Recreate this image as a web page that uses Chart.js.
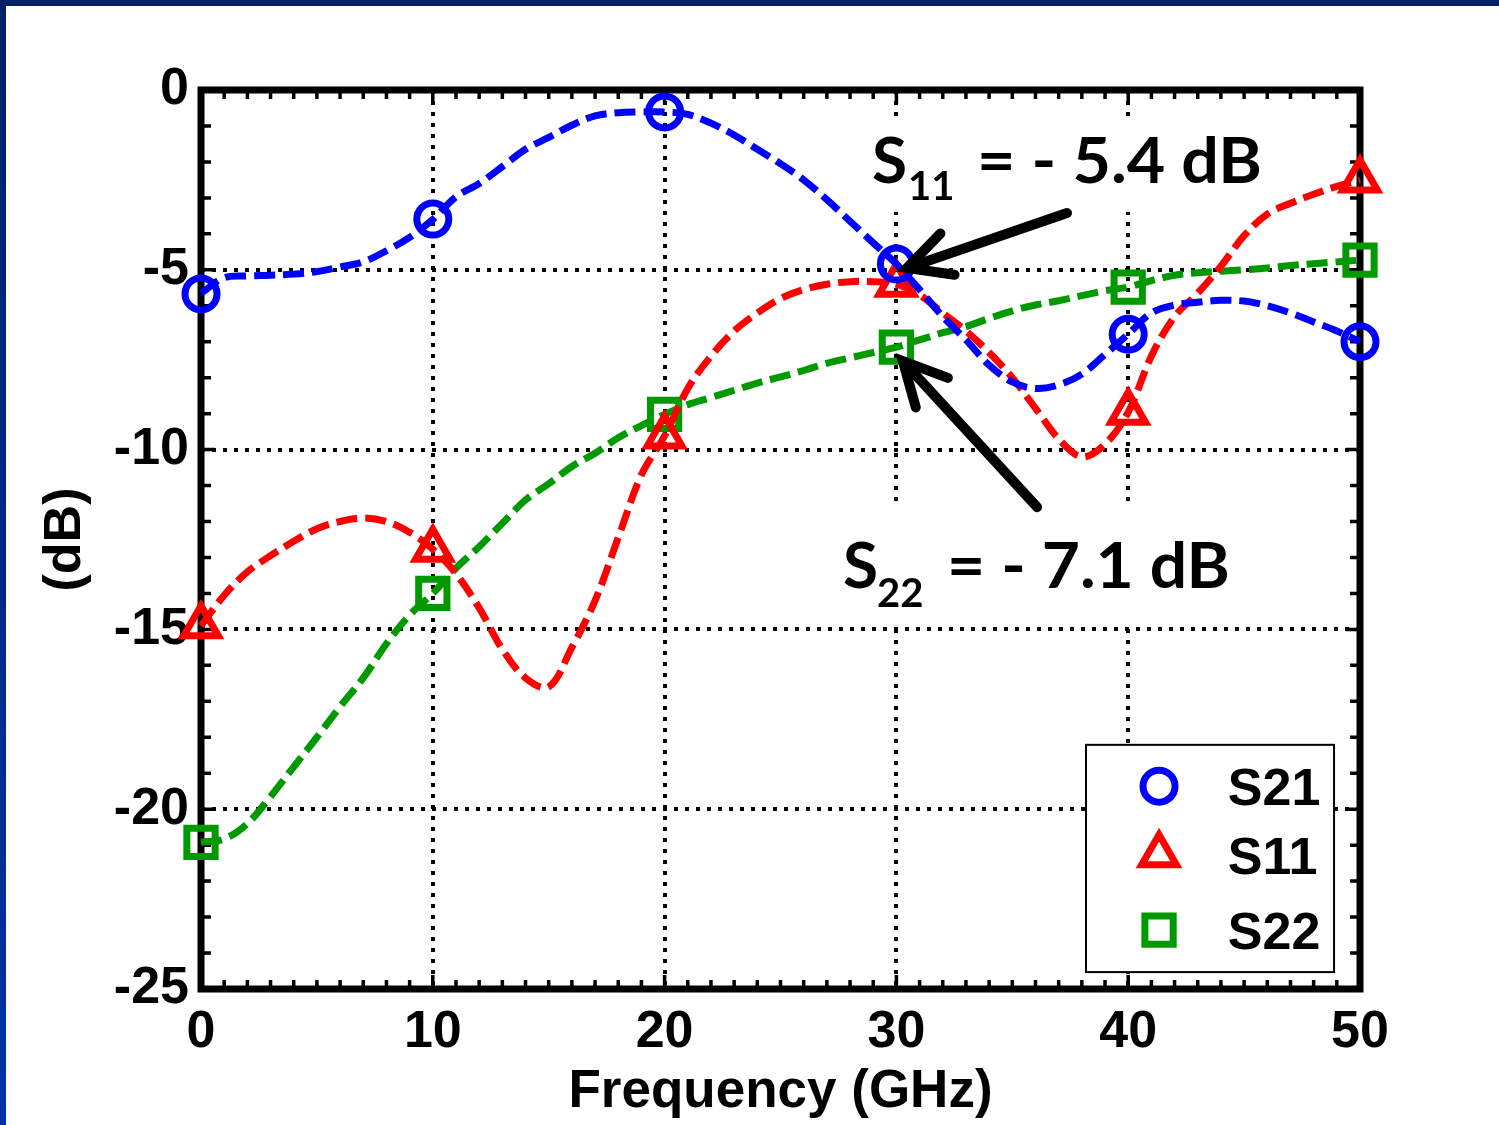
<!DOCTYPE html>
<html>
<head>
<meta charset="utf-8">
<script src="https://cdn.jsdelivr.net/npm/chart.js@4.4.0/dist/chart.umd.min.js"></script>
<style>
  html, body { margin: 0; padding: 0; background: #fff; }
  #wrap { position: relative; width: 1499px; height: 1125px; overflow: hidden; background: #fff; }
  #topBar { position: absolute; left: 0; top: 0; width: 1499px; height: 6px; background: #001f6b; }
  #leftBar { position: absolute; left: 0; top: 0; width: 6px; height: 1125px; background: linear-gradient(#001f6b, #0033a8); }
  canvas { position: absolute; left: 0; top: 0; }
</style>
</head>
<body>
<div id="wrap">
  <div id="topBar"></div>
  <div id="leftBar"></div>
  <canvas id="chart" width="1499" height="1125"></canvas>
</div>
<script>
// frequency grid of the measured curves (GHz)
const freq = [
  0, 1, 2, 3, 4, 5, 6, 7, 8, 9,
  10, 11, 12, 13, 14, 15, 16, 17, 18, 19,
  20, 21, 22, 23, 24, 25, 26, 27, 28, 29,
  30, 31, 32, 33, 34, 35, 36, 37, 38, 39,
  40, 41, 42, 43, 44, 45, 46, 47, 48, 49,
  50
];

// curves (dB)
const s21 = [
  -5.65, -5.22, -5.17, -5.15, -5.12, -5.05, -4.92, -4.78, -4.47, -4.1,
  -3.6, -2.97, -2.6, -2.13, -1.65, -1.32, -0.98, -0.72, -0.63, -0.61,
  -0.61, -0.68, -0.92, -1.25, -1.65, -2.05, -2.5, -3.05, -3.65, -4.25,
  -4.84, -5.55, -6.3, -6.95, -7.65, -8.12, -8.3, -8.2, -7.9, -7.35,
  -6.79, -6.2, -5.98, -5.9, -5.85, -5.87, -6.0, -6.2, -6.45, -6.7,
  -7.0
];
const s11 = [
  -14.9, -14.05, -13.4, -12.95, -12.55, -12.2, -12.0, -11.9, -12.0, -12.3,
  -12.77, -13.45, -14.4, -15.55, -16.35, -16.6, -15.5, -14.2, -12.45, -10.7,
  -9.62, -8.3, -7.4, -6.7, -6.2, -5.8, -5.55, -5.4, -5.33, -5.33,
  -5.4, -5.7, -6.2, -6.7, -7.3, -8.0, -8.85, -9.7, -10.2, -9.85,
  -8.96, -7.4, -6.3, -5.65, -4.9, -4.05, -3.45, -3.15, -2.9, -2.68,
  -2.5
];
const s22 = [
  -20.92, -20.83, -20.4, -19.65, -18.82, -18.0, -17.15, -16.35, -15.4, -14.6,
  -14.0, -13.3, -12.7, -12.05, -11.4, -10.95, -10.47, -10.1, -9.67, -9.33,
  -9.02, -8.75, -8.55, -8.35, -8.15, -7.98, -7.8, -7.6, -7.45, -7.3,
  -7.15, -6.95, -6.75, -6.58, -6.35, -6.14, -5.98, -5.86, -5.72, -5.58,
  -5.48, -5.3, -5.15, -5.08, -5.04, -5.0, -4.95, -4.88, -4.83, -4.78,
  -4.73
];

// marker points every 10 GHz
const markFreq = [0, 10, 20, 30, 40, 50];
const s21Marks = [-5.67, -3.59, -0.61, -4.84, -6.79, -7.0];
const s11Marks = [-14.9, -12.77, -9.62, -5.4, -8.96, -2.5];
const s22Marks = [-20.92, -14.0, -9.02, -7.15, -5.48, -4.73];

const seriesNames = ['S21', 'S11', 'S22'];
const xTicks = [0, 10, 20, 30, 40, 50];
const yTicks = [0, -5, -10, -15, -20, -25];

const tickFont = { family: "'Liberation Sans', Arial, sans-serif", size: 52, weight: 'bold' };
const noteFont = "Lato, 'Open Sans', sans-serif";

function pts(xs, ys) {
  return xs.map((x, i) => ({ x: x, y: ys[i] }));
}

const styles = [
  { color: '#0000ff', pointStyle: 'circle', radius: 16 },
  { color: '#ff0000', pointStyle: 'triangle', radius: 20 },
  { color: '#009900', pointStyle: 'rect', radius: 20 }
];

const curveData = [s21, s11, s22];
const markData = [s21Marks, s11Marks, s22Marks];

const datasets = [];
seriesNames.forEach((name, i) => {
  datasets.push({
    label: name + ' markers',
    data: pts(markFreq, markData[i]),
    showLine: false,
    pointStyle: styles[i].pointStyle,
    pointRadius: styles[i].radius,
    pointBorderWidth: 7,
    pointBorderColor: styles[i].color,
    pointBackgroundColor: 'rgba(0,0,0,0)',
    clip: false
  });
  datasets.push({
    label: name,
    data: pts(freq, curveData[i]),
    borderColor: styles[i].color,
    borderWidth: 7,
    borderDash: [21, 8],
    pointRadius: 0,
    tension: 0.35,
    fill: false,
    clip: false
  });
});

// annotation placement, in data units
const noteBoxes = [
  { x0: 28.3, x1: 46.3, y0: -0.75, y1: -3.39 },
  { x0: 27.0, x1: 45.0, y0: -11.62, y1: -14.8 }
];
const notes = [
  { sub: '11', rest: '= - 5.4 dB', sX: 28.95, subX: 30.5, restX0: 33.48, restX1: 45.77, base: -2.59, subBase: -3.06 },
  { sub: '22', rest: '= - 7.1 dB', sX: 27.7, subX: 29.16, restX0: 32.18, restX1: 44.39, base: -13.85, subBase: -14.38 }
];
const arrows = [
  { fromX: 37.36, fromY: -3.42, toX: 30.46, toY: -4.95 },
  { fromX: 36.07, fromY: -11.6, toX: 30.28, toY: -7.54 }
];
const legendBox = { x0: 38.18, x1: 48.88, y0: -18.21, y1: -24.53, markX: 41.33, textX: 44.3, rows: [-19.36, -21.27, -23.36] };

const decor = {
  id: 'decor',
  beforeDatasetsDraw(chart) {
    const { ctx, chartArea: a, scales: { x, y } } = chart;
    ctx.save();
    ctx.fillStyle = '#ffffff';
    noteBoxes.forEach((b) => {
      const l = x.getPixelForValue(b.x0), r = x.getPixelForValue(b.x1);
      const t = y.getPixelForValue(b.y0), bt = y.getPixelForValue(b.y1);
      ctx.fillRect(l, t, r - l, bt - t);
    });

    ctx.strokeStyle = '#000';
    ctx.lineWidth = 3.5;
    ctx.beginPath();
    for (let f = 0; f <= 50; f++) {
      const px = x.getPixelForValue(f);
      const len = f % 10 === 0 ? 14 : 9;
      ctx.moveTo(px, a.bottom); ctx.lineTo(px, a.bottom - len);
      ctx.moveTo(px, a.top); ctx.lineTo(px, a.top + len);
    }
    for (let d = 0; d >= -25; d--) {
      const py = y.getPixelForValue(d);
      const len = d % 5 === 0 ? 14 : 10;
      ctx.moveTo(a.left, py); ctx.lineTo(a.left + len, py);
      ctx.moveTo(a.right, py); ctx.lineTo(a.right - len, py);
    }
    ctx.stroke();

    ctx.lineWidth = 7;
    ctx.strokeRect(a.left, a.top, a.right - a.left, a.bottom - a.top);
    ctx.restore();
  },
  afterDatasetsDraw(chart) {
    const { ctx, scales: { x, y } } = chart;
    ctx.save();

    // arrows
    ctx.strokeStyle = '#000';
    ctx.lineWidth = 10;
    ctx.lineCap = 'round';
    ctx.lineJoin = 'miter';
    arrows.forEach((ar) => {
      const x0 = x.getPixelForValue(ar.fromX), y0 = y.getPixelForValue(ar.fromY);
      const x1 = x.getPixelForValue(ar.toX), y1 = y.getPixelForValue(ar.toY);
      const ang = Math.atan2(y0 - y1, x0 - x1);
      const hl = 48, ha = 27 * Math.PI / 180;
      ctx.beginPath();
      ctx.moveTo(x0, y0);
      ctx.lineTo(x1 + 4 * Math.cos(ang), y1 + 4 * Math.sin(ang));
      ctx.stroke();
      ctx.beginPath();
      ctx.moveTo(x1 + hl * Math.cos(ang + ha), y1 + hl * Math.sin(ang + ha));
      ctx.lineTo(x1, y1);
      ctx.lineTo(x1 + hl * Math.cos(ang - ha), y1 + hl * Math.sin(ang - ha));
      ctx.stroke();
    });

    // S-parameter notes
    ctx.fillStyle = '#000';
    ctx.textBaseline = 'alphabetic';
    ctx.textAlign = 'left';
    notes.forEach((n) => {
      const base = y.getPixelForValue(n.base);
      ctx.font = 'bold 64px ' + noteFont;
      ctx.fillText('S', x.getPixelForValue(n.sX), base);
      ctx.font = 'bold 40px ' + noteFont;
      ctx.fillText(n.sub, x.getPixelForValue(n.subX), y.getPixelForValue(n.subBase));
      ctx.font = 'bold 64px ' + noteFont;
      const x0 = x.getPixelForValue(n.restX0), x1 = x.getPixelForValue(n.restX1);
      const w = ctx.measureText(n.rest).width;
      ctx.save();
      ctx.translate(x0, base);
      ctx.scale((x1 - x0) / w, 1);
      ctx.fillText(n.rest, 0, 0);
      ctx.restore();
    });

    // legend
    const lx0 = x.getPixelForValue(legendBox.x0), lx1 = x.getPixelForValue(legendBox.x1);
    const ly0 = y.getPixelForValue(legendBox.y0), ly1 = y.getPixelForValue(legendBox.y1);
    ctx.fillStyle = '#fff';
    ctx.fillRect(lx0, ly0, lx1 - lx0, ly1 - ly0);
    ctx.lineWidth = 2;
    ctx.lineCap = 'butt';
    ctx.strokeStyle = '#000';
    ctx.strokeRect(lx0, ly0, lx1 - lx0, ly1 - ly0);
    const mx = x.getPixelForValue(legendBox.markX);
    const tx = x.getPixelForValue(legendBox.textX);
    legendBox.rows.forEach((row, i) => {
      const py = y.getPixelForValue(row);
      ctx.strokeStyle = styles[i].color;
      ctx.fillStyle = 'rgba(0,0,0,0)';
      ctx.lineWidth = 7;
      Chart.helpers.drawPoint(ctx, { pointStyle: styles[i].pointStyle, radius: styles[i].radius, borderWidth: 7, rotation: 0 }, mx, py);
      ctx.fillStyle = '#000';
      ctx.font = 'bold 52px ' + tickFont.family;
      ctx.fillText(seriesNames[i], tx, py + 19);
    });
    ctx.restore();
  }
};

new Chart(document.getElementById('chart'), {
  type: 'line',
  data: { datasets: datasets },
  options: {
    responsive: false,
    animation: false,
    events: [],
    layout: { padding: { left: 0, right: 139, top: 90, bottom: 0 } },
    scales: {
      x: {
        type: 'linear',
        min: 0,
        max: 50,
        afterBuildTicks: (s) => { s.ticks = xTicks.map((v) => ({ value: v })); },
        afterFit: (s) => { s.height = 136; },
        ticks: { font: tickFont, color: '#000', padding: 12, maxRotation: 0 },
        grid: { color: '#000', lineWidth: 4, drawTicks: false },
        border: { display: false, dash: [4, 7] },
        title: { display: true, text: 'Frequency (GHz)', color: '#000', font: { family: tickFont.family, size: 53, weight: 'bold' }, padding: { top: 0, bottom: 1 } }
      },
      y: {
        type: 'linear',
        min: -25,
        max: 0,
        afterBuildTicks: (s) => { s.ticks = yTicks.map((v) => ({ value: v })); },
        afterFit: (s) => { s.width = 201; },
        ticks: { font: tickFont, color: '#000', padding: 12 },
        grid: { color: '#000', lineWidth: 4, drawTicks: false },
        border: { display: false, dash: [4, 7] },
        title: { display: true, text: '(dB)', color: '#000', font: { family: tickFont.family, size: 52, weight: 'bold' }, padding: { top: 34, bottom: 0 } }
      }
    },
    plugins: { legend: { display: false }, tooltip: { enabled: false } }
  },
  plugins: [decor]
});
</script>
</body>
</html>
